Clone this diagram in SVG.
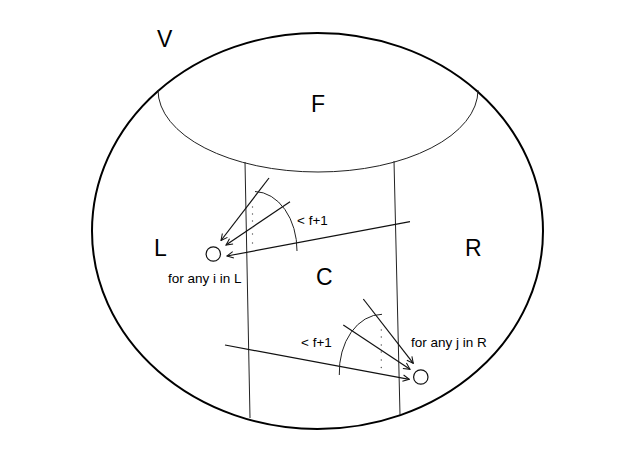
<svg xmlns="http://www.w3.org/2000/svg" width="630" height="472" viewBox="0 0 630 472">
<defs>
<style>
.big{font-family:"Liberation Sans",Arial,sans-serif;font-size:23px;fill:#000}
.sm{font-family:"Liberation Sans",Arial,sans-serif;font-size:13.5px;fill:#000}
.thin{fill:none;stroke:#222;stroke-width:1}
.arr{fill:none;stroke:#111;stroke-width:1.2;marker-end:url(#ah)}
.dot{fill:#555}
</style>
<marker id="ah" viewBox="0 0 10 10" refX="9" refY="5" markerWidth="8" markerHeight="8" orient="auto" markerUnits="userSpaceOnUse">
<path d="M1,1 L9,5 L1,9" fill="none" stroke="#111" stroke-width="1.3"/>
</marker>
</defs>
<rect width="630" height="472" fill="#fff"/>
<g id="V">
<ellipse cx="317.5" cy="231" rx="225.5" ry="198" fill="none" stroke="#000" stroke-width="2"/>
<text class="big" x="157" y="47">V</text>
</g>
<g id="F">
<path class="thin" d="M158,90 A160,82 0 0 0 478,90"/>
<text class="big" x="311" y="112">F</text>
</g>
<g id="C">
<path class="thin" d="M245,162 L250,418"/>
<path class="thin" d="M394,161 L400,415"/>
<text class="big" x="316" y="285">C</text>
</g>
<g id="L">
<text class="big" x="154" y="256">L</text>
</g>
<g id="R">
<text class="big" x="465" y="256">R</text>
</g>
<g id="node-i">
<circle cx="213.3" cy="254" r="7.2" fill="none" stroke="#111" stroke-width="1.2"/>
<text class="sm" x="168" y="283">for any i in L</text>
</g>
<g id="node-j">
<circle cx="420.8" cy="377" r="7.2" fill="none" stroke="#111" stroke-width="1.2"/>
<text class="sm" x="411" y="347">for any j in R</text>
</g>
<g id="connectors">
<line class="arr" x1="269" y1="178" x2="221" y2="240.5"/>
<line class="arr" x1="290" y1="201.7" x2="226" y2="245"/>
<line class="arr" x1="410" y1="221.7" x2="227" y2="256"/>
<path class="thin" d="M255,191.5 A43,59 0 0 1 297,251"/>
<g class="dot">
<circle cx="252.5" cy="207" r="0.7"/><circle cx="252.5" cy="214" r="0.7"/><circle cx="252.5" cy="221" r="0.7"/><circle cx="252.5" cy="227.5" r="0.7"/><circle cx="252.5" cy="234" r="0.7"/><circle cx="252.5" cy="243" r="0.7"/>
</g>
<text class="sm" x="297" y="225">&lt; f+1</text>
<line class="arr" x1="363.3" y1="299" x2="413.3" y2="363.3"/>
<line class="arr" x1="343.3" y1="325" x2="410" y2="369.3"/>
<line class="arr" x1="225" y1="345" x2="409.3" y2="379.3"/>
<path class="thin" d="M382,314.3 A43,58 0 0 0 339.3,375"/>
<g class="dot">
<circle cx="381.3" cy="330" r="0.7"/><circle cx="381.3" cy="337" r="0.7"/><circle cx="381.3" cy="345" r="0.7"/><circle cx="381.3" cy="352" r="0.7"/><circle cx="381.3" cy="360" r="0.7"/><circle cx="381.3" cy="367.5" r="0.7"/>
</g>
<text class="sm" x="301" y="347">&lt; f+1</text>
</g>
</svg>
